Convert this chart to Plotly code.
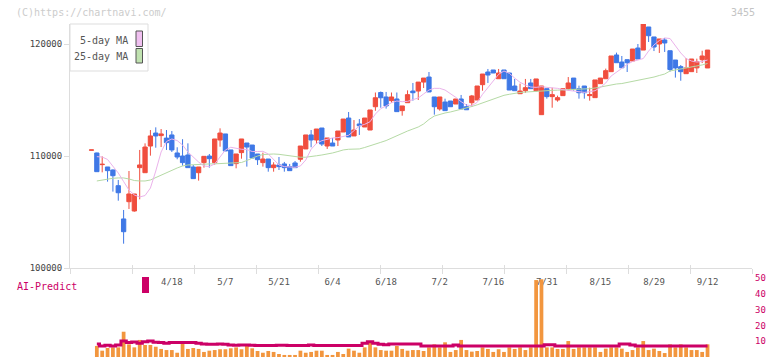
import plotly.graph_objects as go

# ---------------- data ----------------
open_ = [110520, 110270, 109230, 109020, 108750, 107350, 104380, 105920, 105090, 108960,
         108510, 110890, 112050, 111820, 111600, 111880, 110270, 110000, 110090, 109020,
         108510, 109410, 110000, 109410, 111430, 111970, 110540, 109320, 110300, 111160,
         110980, 110180, 109410, 109730, 108960, 109200, 109290, 109050, 109380, 109710,
         110630, 111880, 111430, 112500, 110890, 111160, 111430, 112140, 113390, 111790,
         112860, 112590, 112320, 114400, 115670, 115270, 114940, 115090, 114050, 114760,
         115800, 115800, 116600, 117050, 115270, 114200, 114820, 114910, 114640, 115090,
         114400, 114760, 115000, 116370, 117500, 117680, 116900, 117680, 117410, 116250,
         115560, 115830, 116520, 115830, 113690, 116010, 115300, 115000, 115390, 116010,
         116960, 116010, 116250, 115390, 115210, 116460, 116900, 117530, 119020, 118390,
         118600, 118480, 119640, 119460, 121520, 120630, 120000, 120360, 119400, 118570,
         117980, 117350, 117530, 117870, 118600, 117860]
high = [110540, 110300, 109970, 109020, 108800, 107860, 105180, 108660, 106610, 110540,
        111130, 112320, 112560, 112410, 112320, 112230, 110780, 111500, 111130, 109200,
        109020, 109970, 110180, 111520, 112470, 111970, 110540, 110180, 111520, 111160,
        110980, 110180, 110300, 109730, 109440, 109910, 109470, 109290, 109550, 110890,
        111880, 112320, 112410, 112500, 111610, 111610, 112230, 113300, 113930, 113210,
        113300, 113390, 114110, 115670, 115760, 115720, 115670, 115670, 114470, 115860,
        116520, 116600, 116960, 117500, 115270, 115270, 115120, 114910, 115090, 115450,
        114640, 115450, 116250, 117320, 117770, 117680, 117770, 117680, 117410, 116880,
        116460, 116880, 116880, 116880, 116250, 116010, 116100, 115390, 116010, 117050,
        116960, 116280, 116250, 116100, 116790, 116960, 117800, 118930, 119230, 118930,
        118600, 119550, 120000, 121790, 121520, 120630, 120450, 120540, 119400, 118570,
        118120, 118750, 118660, 118690, 119400, 119460]
low = [110520, 108600, 108540, 107710, 106820, 106010, 102170, 105270, 105030, 106130,
       108510, 110030, 110740, 110800, 110540, 110360, 109710, 109140, 108960, 107980,
       107800, 108960, 108960, 109230, 110830, 110450, 109140, 108900, 109760, 109050,
       109820, 109200, 109050, 108600, 108600, 108750, 108600, 108690, 108960, 109490,
       110630, 110780, 111070, 110890, 110630, 110890, 110890, 112140, 111700, 111790,
       111880, 112590, 112320, 114040, 114310, 114230, 114760, 113960, 113600, 114760,
       114940, 115000, 116070, 115720, 113690, 114050, 114050, 114400, 114640, 114200,
       114130, 114400, 115000, 115830, 116520, 117410, 116900, 116900, 115890, 115830,
       115560, 115650, 116010, 115740, 113690, 115120, 114310, 114850, 115390, 115830,
       115830, 115120, 115120, 114940, 115210, 116460, 116900, 117530, 118330, 117880,
       117500, 118480, 118660, 119460, 120180, 119370, 119200, 119290, 117540, 117000,
       116720, 117350, 117530, 117410, 118300, 117860]
close = [110540, 108600, 109260, 108690, 108240, 106720, 103240, 106610, 106610, 109200,
         110800, 111790, 111790, 111970, 111190, 110540, 109910, 109410, 108960, 107980,
         109020, 109970, 109760, 111520, 112050, 110450, 109140, 110180, 111520, 110800,
         109820, 109670, 109730, 108960, 109200, 109050, 108960, 108690, 108960, 110890,
         111880, 111430, 112410, 111070, 111610, 110890, 112230, 113300, 111700, 112320,
         112700, 113390, 114110, 115200, 115200, 114470, 115270, 113960, 114470, 115480,
         115650, 116600, 116960, 115720, 114400, 115270, 114050, 114400, 115090, 114200,
         114130, 115360, 116250, 117320, 117230, 117410, 117410, 116900, 115890, 115830,
         115800, 116100, 116010, 116880, 116250, 115300, 115480, 115210, 116010, 116520,
         116010, 115650, 115650, 115480, 116790, 116960, 117620, 118930, 118330, 117880,
         118330, 119550, 118660, 121790, 120740, 119730, 120450, 120090, 117720, 117860,
         117530, 117860, 118660, 118430, 118930, 119460]
ma5 = [None, 109940, 109910, 109690, 109110, 108480, 107720, 106960, 106520, 106340, 106470,
       107140, 108660, 110360, 111300, 111520, 111380, 110980, 110360, 109870, 109460,
       109110, 109060, 109290, 109870, 110540, 110780, 110690, 110600, 110580, 110400,
       110400, 110420, 110180, 109640, 109200, 109050, 109050, 108990, 109110, 109640,
       110600, 111130, 111370, 111520, 111610, 111640, 111720, 111850, 112260, 112680,
       112830, 113060, 113750, 114230, 114470, 114760, 114910, 114850, 114880, 115000,
       115180, 115540, 115890, 116040, 116040, 115890, 115600, 115240, 114850, 114550,
       114490, 114790, 115510, 116130, 116760, 117290, 117590, 117380, 116960, 116580,
       116340, 116160, 116130, 116190, 116130, 116100, 116040, 115920, 115830, 115800,
       115740, 115680, 115740, 115830, 116120, 116520, 117140, 117500, 117860, 118170,
       118440, 118570, 118700, 119370, 119910, 120310, 120540, 120490, 119820, 119200,
       118700, 118480, 118390, 118440, 118570]
ma25 = [None, 107770, 107860, 107920, 108010, 108040, 108040, 107950, 107810, 107770, 107770,
        107860, 108080, 108300, 108530, 108750, 108930, 109110, 109200, 109220, 109260,
        109260, 109290, 109300, 109330, 109350, 109375, 109400, 109420, 109600, 109820,
        110000, 110130, 110180, 110180, 110150, 110090, 110000, 109940, 109890, 109890,
        109930, 110020, 110090, 110160, 110270, 110400, 110540, 110600, 110610, 110630,
        110760, 110890, 111070, 111220, 111380, 111610, 111790, 112010, 112230, 112410,
        112590, 112860, 113260, 113570, 113730, 113840, 113930, 114040, 114150, 114260,
        114420, 114570, 114750, 114910, 115130, 115310, 115420, 115510, 115600, 115670,
        115710, 115750, 115790, 115810, 115840, 115860, 115880, 115890, 115910, 115940,
        115960, 115980, 116010, 116070, 116160, 116270, 116370, 116430, 116470, 116560,
        116650, 116740, 116830, 116960, 117050, 117190, 117320, 117590, 117680, 117770,
        117860, 117920, 117990, 118130, 118260]
volume = [None, 7.0, 4.0, 5.7, 6.1, 6.1, 16.0, 8.0, 6.1, 10.8, 7.6,
          7.6, 6.5, 5.1, 4.4, 4.4, 2.7, 10.1, 5.1, 5.7, 5.1,
          3.2, 4.0, 4.4, 4.9, 4.9, 5.5, 6.1, 4.9, 8.0, 5.5,
          3.8, 2.7, 3.8, 3.2, 1.9, 1.3, 1.3, 1.3, 4.0, 2.7,
          3.2, 4.0, 4.0, 1.3, 1.3, 3.2, 1.9, 5.3, 4.0, 2.7,
          6.1, 10.1, 6.1, 4.4, 4.0, 4.0, 7.0,
          5.1, 4.0, 4.4, 4.4, 3.8, 6.1, 8.0, 6.1, 9.3, 3.2,
          4.4, 10.8, 4.4, 3.4, 3.8, 6.1, 5.1, 3.2, 4.9, 3.2,
          6.1, 5.1, 6.1, 4.4, 6.1, 48.7, 49.2, 6.1, 6.1, 5.1,
          5.1, 10.1, 5.1, 6.1, 6.1, 6.1, 6.1, 3.2, 5.3, 6.1,
          6.1, 5.3, 3.2, 4.4, 6.1, 10.1, 4.4, 5.3, 3.8, 2.5,
          8.0, 6.1, 8.0, 6.1, 4.4, 4.4, 3.2, 8.0]
ai_predict = [None, 8.2, 7.0, 7.4, 7.0, 7.6, 10.1, 9.1, 9.5, 8.7, 9.7,
              10.1, 9.3, 9.1, 8.7, 9.1, 9.1, 9.1, 9.1, 9.1, 8.7,
              8.2, 8.0, 8.0, 8.2, 8.0, 7.6, 7.4, 7.6, 7.6, 7.4,
              7.2, 7.2, 7.2, 7.2, 7.4, 7.4, 7.2, 7.2, 7.2, 7.2,
              7.6, 7.2, 7.2, 7.2, 7.2, 7.2, 7.2, 7.2, 7.2, 7.2,
              8.7, 9.7, 8.7, 8.0, 7.8, 8.2, 8.2,
              8.2, 8.2, 8.2, 8.2, 7.0, 7.0, 7.0, 7.0, 7.0, 7.0,
              7.6, 7.0, 7.0, 7.0, 7.0, 7.0, 7.0, 7.0, 7.0, 7.0,
              7.0, 7.0, 7.0, 7.0, 7.0, 7.0, 7.0, 7.8, 7.8, 7.0,
              7.0, 7.0, 7.0, 7.0, 7.0, 7.0, 7.0, 7.0, 7.0, 7.0,
              7.0, 8.2, 8.2, 7.6, 7.0, 7.0, 7.0, 7.0, 7.0, 7.0,
              7.0, 7.0, 7.0, 7.0, 7.0, 7.0, 7.0, 7.0]
date_ticks = [15, 25, 35, 45, 55, 65, 75, 85, 95, 105, 115]
date_labels = ["4/18", "5/7", "5/21", "6/4", "6/18", "7/2", "7/16", "7/31", "8/15", "8/29", "9/12"]
price_ticks = [100000, 110000, 120000]
vol_ticks = [0, 10, 20, 30, 40, 50]

n = len(open_)
for arr in (high, low, close, ma5, ma25, volume, ai_predict):
    assert len(arr) == n, len(arr)
days = list(range(n))

# ---------------- style ----------------
W, H = 772, 361
ML, MR, MT, MB = 70, 20, 24, 4
PW, PH = W - ML - MR, H - MT - MB
RED, BLUE = "#f04e3e", "#3f78e6"
ORANGE, MAG = "#f2963e", "#cc0066"
PINK, GREEN = "#ebb3eb", "#b5daa5"
AX = "#dddddd"
FONT = "DejaVu Sans Mono"


def px(x):
    return (x - ML) / PW


def py(y):
    return (H - MB - y) / PH


main_bottom = py(268)
low_top = py(278)
xr = [-4.01, 123.3]

fig = go.Figure()
fig.add_trace(go.Scatter(x=days, y=ma25, mode="lines", line=dict(color=GREEN, width=1),
                         hoverinfo="skip", showlegend=False))
fig.add_trace(go.Scatter(x=days, y=ma5, mode="lines", line=dict(color=PINK, width=1),
                         hoverinfo="skip", showlegend=False))
fig.add_trace(go.Candlestick(x=days, open=open_, high=high, low=low, close=close,
                             increasing=dict(line=dict(color=RED, width=1), fillcolor=RED),
                             decreasing=dict(line=dict(color=BLUE, width=1), fillcolor=BLUE),
                             whiskerwidth=0, showlegend=False))
fig.add_trace(go.Bar(x=days, y=volume, marker=dict(color=ORANGE, line=dict(width=0)),
                     width=0.7, xaxis="x2", yaxis="y2", showlegend=False))
fig.add_trace(go.Scatter(x=days, y=ai_predict, mode="lines", line=dict(color=MAG, width=3, shape="hvh"),
                         xaxis="x2", yaxis="y2", showlegend=False))
# helper invisible traces so the tick overlay axes exist
fig.add_trace(go.Scatter(x=[0], y=[None], xaxis="x3", yaxis="y", showlegend=False, hoverinfo="skip"))
fig.add_trace(go.Scatter(x=[0], y=[None], xaxis="x4", yaxis="y", showlegend=False, hoverinfo="skip"))

fig.update_layout(
    width=W, height=H,
    margin=dict(l=ML, r=MR, t=MT, b=MB, autoexpand=False),
    paper_bgcolor="white", plot_bgcolor="white",
    showlegend=False, boxgap=0.2, boxgroupgap=0,
    font=dict(family=FONT, color="#555555", size=9),
    xaxis=dict(domain=[0, 1], anchor="y", range=xr, rangeslider=dict(visible=False), automargin=False,
               tickmode="array", tickvals=date_ticks, ticktext=date_labels,
               ticks="outside", ticklen=5, tickcolor="rgba(0,0,0,0)",
               tickfont=dict(family=FONT, size=9, color="#555555"),
               showline=True, linecolor=AX, linewidth=1, showgrid=False, zeroline=False),
    xaxis2=dict(domain=[0, 1], anchor="y2", range=xr, showticklabels=False, ticks="", automargin=False,
                showline=False, showgrid=False, zeroline=False),
    xaxis3=dict(overlaying="x", anchor="y", range=[0, PW], tickmode="linear", tick0=0, dtick=62,
                ticks="outside", ticklen=5, tickcolor=AX, showticklabels=False, automargin=False,
                showline=False, showgrid=False, zeroline=False),
    xaxis4=dict(overlaying="x", anchor="y", range=[0, PW], tickmode="linear", tick0=0, dtick=62,
                ticks="inside", ticklen=3, tickcolor=AX, showticklabels=False, automargin=False,
                showline=False, showgrid=False, zeroline=False),
    yaxis=dict(domain=[main_bottom, 1], anchor="x", range=[100000, 121786], automargin=False,
               tickmode="array", tickvals=price_ticks, ticktext=[str(v) for v in price_ticks],
               ticks="outside", ticklen=5, tickcolor=AX,
               tickfont=dict(family=FONT, size=9, color="#444444"),
               showline=True, linecolor=AX, linewidth=1, showgrid=False, zeroline=False),
    yaxis2=dict(domain=[0, low_top], anchor="x2", side="right", range=[0, 50], automargin=False,
                tickmode="array", tickvals=vol_ticks, ticks="", ticklabelstandoff=2,
                tickfont=dict(family=FONT, size=9, color=MAG),
                showline=False, showgrid=False, zeroline=False),
)

shapes = [
    dict(type="rect", xref="paper", yref="paper", x0=px(70), x1=px(148), y0=py(71), y1=py(24),
         line=dict(color=AX, width=1), fillcolor="white", layer="above"),
    dict(type="rect", xref="paper", yref="paper", x0=px(136), x1=px(142.5), y0=py(46.5), y1=py(31),
         line=dict(color="#555555", width=1), fillcolor="#f0c0f0", layer="above"),
    dict(type="rect", xref="paper", yref="paper", x0=px(136), x1=px(142.5), y0=py(63), y1=py(48.5),
         line=dict(color="#555555", width=1), fillcolor="#c0e2b0", layer="above"),
    dict(type="rect", xref="paper", yref="paper", x0=px(142), x1=px(149), y0=py(293), y1=py(277),
         line=dict(width=0), fillcolor=MAG, layer="above"),
]
fig.update_layout(shapes=shapes)

ann = [
    dict(text="(C)https://chartnavi.com/", x=px(14), y=py(12.5), xanchor="left", yanchor="middle",
         font=dict(family=FONT, size=10, color="#cccccc")),
    dict(text="3455", x=px(757), y=py(12.5), xanchor="right", yanchor="middle",
         font=dict(family=FONT, size=10, color="#c4c4c4")),
    dict(text="5-day MA", x=px(130), y=py(40), xanchor="right", yanchor="middle",
         font=dict(family=FONT, size=10, color="#555555")),
    dict(text="25-day MA", x=px(130), y=py(56.5), xanchor="right", yanchor="middle",
         font=dict(family=FONT, size=10, color="#555555")),
    dict(text="AI-Predict", x=px(15), y=py(286), xanchor="left", yanchor="middle",
         font=dict(family=FONT, size=10, color=MAG)),
]
for a in ann:
    a.update(xref="paper", yref="paper", showarrow=False)
fig.update_layout(annotations=ann)

fig.write_html("out.html", config={"displayModeBar": False, "staticPlot": True},
               post_script="document.body.style.margin='0';document.body.style.overflow='hidden';")
